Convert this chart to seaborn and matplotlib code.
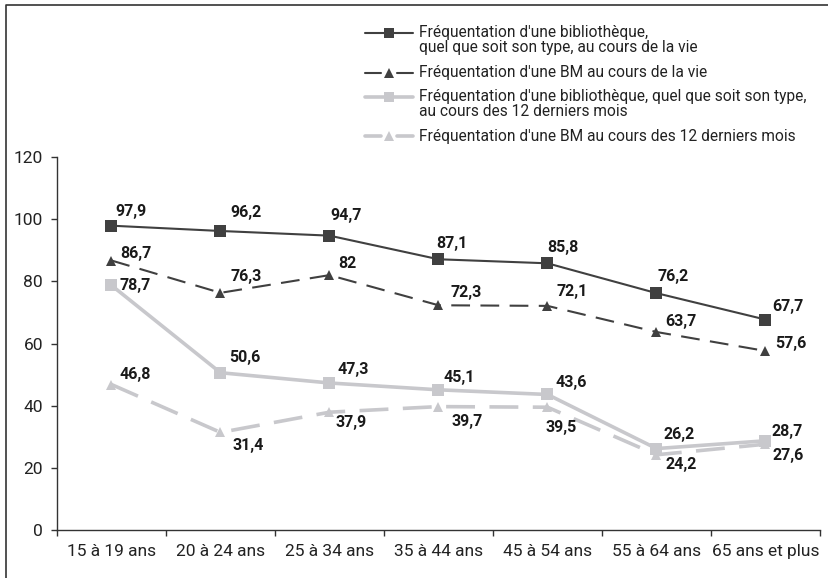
import matplotlib
matplotlib.use('Agg')
import pandas as pd
import matplotlib.pyplot as plt
import seaborn as sns
from matplotlib.lines import Line2D

# Data
categories = ['15 à 19 ans', '20 à 24 ans', '25 à 34 ans', '35 à 44 ans',
              '45 à 54 ans', '55 à 64 ans', '65 ans et plus']
vie_biblio = [97.9, 96.2, 94.7, 87.1, 85.8, 76.2, 67.7]
vie_bm = [86.7, 76.3, 82, 72.3, 72.1, 63.7, 57.6]
mois_biblio = [78.7, 50.6, 47.3, 45.1, 43.6, 26.2, 28.7]
mois_bm = [46.8, 31.4, 37.9, 39.7, 39.5, 24.2, 27.6]
series_names = ["Fréquentation d'une bibliothèque,\nquel que soit son type, au cours de la vie",
                "Fréquentation d'une BM au cours de la vie",
                "Fréquentation d'une bibliothèque, quel que soit son type,\nau cours des 12 derniers mois",
                "Fréquentation d'une BM au cours des 12 derniers mois"]

df = pd.DataFrame({'age': categories * 4,
                   'value': vie_biblio + vie_bm + mois_biblio + mois_bm,
                   'serie': sum([[n] * len(categories) for n in series_names], [])})

# Styles
dark = '#404040'
light = '#c8c8cc'
styles = {
    series_names[0]: dict(color=dark, lw=1.5, marker='s', ms=8, dashes=None),
    series_names[1]: dict(color=dark, lw=1.5, marker='^', ms=7.5, dashes=(9, 5)),
    series_names[2]: dict(color=light, lw=2.6, marker='s', ms=8, dashes=None),
    series_names[3]: dict(color=light, lw=2.6, marker='^', ms=7.5, dashes=(8, 4)),
}
# label offsets in pixels (dx, dy) for each series
offsets = {
    series_names[0]: [(20, 14), (26, 18), (17, 20), (13, 16), (15, 16), (17, 17), (22, 13)],
    series_names[1]: [(24, 7), (26, 16), (18, 12), (28, 13), (25, 14), (24, 10), (25, 7)],
    series_names[2]: [(24, 0), (24, 15), (24, 13), (21, 12), (24, 12), (23, 14), (22, 9)],
    series_names[3]: [(24, 10), (28, -13), (22, -10), (29, -15), (14, -20), (25, -10), (23, -11)],
}

sns.set_theme(style='white')
plt.rcParams['font.family'] = ['Roboto', 'DejaVu Sans']

fig = plt.figure(figsize=(8.29, 5.78), dpi=100)
ax = fig.add_axes([57 / 829, 48 / 578, 763 / 829, 373 / 578])

for name in series_names[::-1]:
    st = styles[name]
    sub = df[df['serie'] == name]
    sns.lineplot(data=sub, x='age', y='value', ax=ax, color=st['color'], lw=st['lw'],
                 marker=st['marker'], markersize=st['ms'], markeredgewidth=0, sort=False)
    if st['dashes']:
        ax.lines[-1].set_dashes(st['dashes'])
    for i, (v, off) in enumerate(zip(sub['value'], offsets[name])):
        ax.annotate(f'{v:g}'.replace('.', ','), (i, v), xytext=off, textcoords='offset pixels',
                    ha='center', va='center', fontsize=11.5, fontweight='bold', color='#1a1a1a')

ax.set_xlim(-0.5, 6.5)
ax.set_ylim(0, 120)
ax.set_yticks(range(0, 121, 20))
ax.set_xticks(range(7))
ax.set_xticks([i - 0.5 for i in range(8)], minor=True)
ax.set_xticklabels(categories)
ax.tick_params(axis='x', which='major', length=0, pad=10, labelsize=12.5, labelcolor='#222222')
ax.tick_params(axis='x', which='minor', length=4, width=1, color='#333333', direction='out', bottom=True)
ax.tick_params(axis='y', length=4, width=1, color='#333333', direction='out', left=True,
               pad=6, labelsize=12.5, labelcolor='#222222')
ax.set_xlabel('')
ax.set_ylabel('')
sns.despine(ax=ax)
for s in ['left', 'bottom']:
    ax.spines[s].set_color('#333333')
    ax.spines[s].set_linewidth(1)

# Legend drawn by hand to match layout
W, H = 829, 578
def fx(px):
    return px / W
def fy(py):
    return 1 - py / H

leg_rows = [(33, 40), (73, 73), (97, 104), (136, 136)]
for name, (ym, yt) in zip(series_names, leg_rows):
    st = styles[name]
    if st['dashes']:
        segs = [(365, 381), (397, 413)]
    else:
        segs = [(365, 413)]
    for a, b in segs:
        fig.add_artist(Line2D([fx(a), fx(b)], [fy(ym), fy(ym)], transform=fig.transFigure,
                              color=st['color'], lw=st['lw']))
    fig.add_artist(Line2D([fx(389)], [fy(ym)], transform=fig.transFigure, color=st['color'],
                          marker=st['marker'], markersize=st['ms'] - 1, markeredgewidth=0, lw=0))
    fig.text(fx(419), fy(yt), name, ha='left', va='center', fontsize=11.2,
             color='#222222', linespacing=0.95)

# frame around the figure (left and top)
fig.add_artist(Line2D([fx(6), fx(6), fx(829)], [0, fy(5), fy(5)], transform=fig.transFigure,
                      color='#333333', lw=1.2))

fig.savefig('out.png', dpi=100)
